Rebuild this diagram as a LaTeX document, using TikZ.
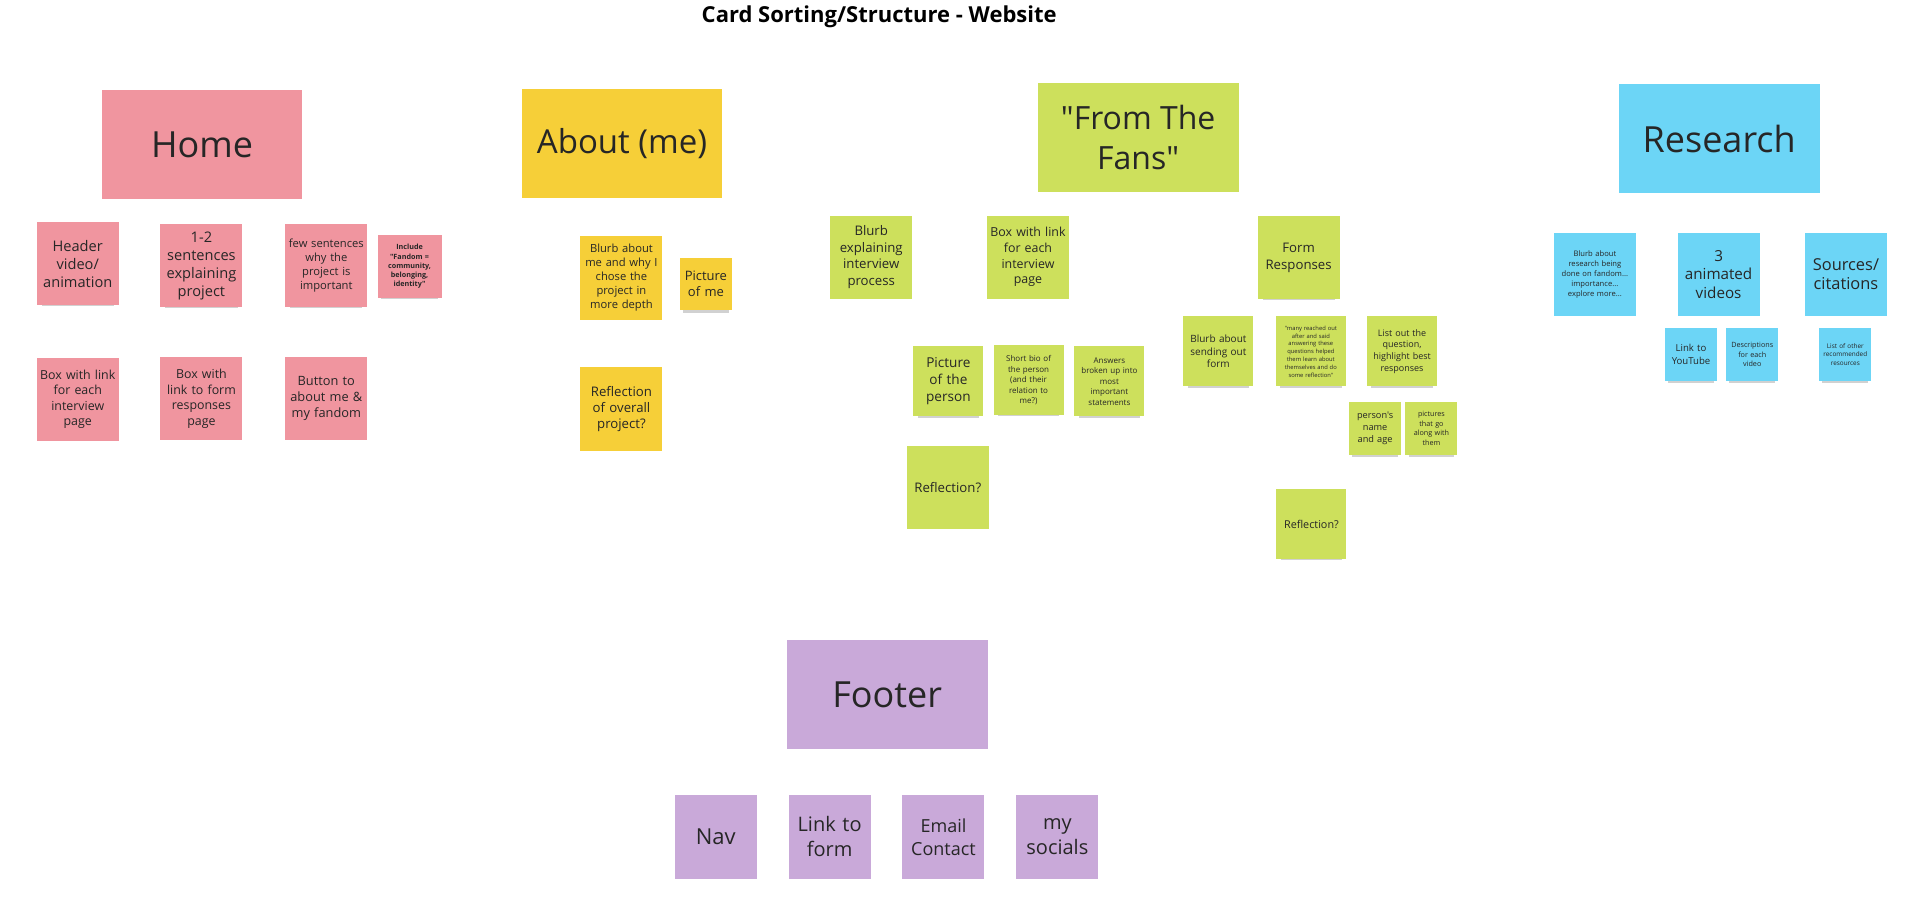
\documentclass[tikz,border=0pt]{standalone}
\usepackage{fontspec}
\setmainfont{Open Sans}[Ligatures=TeXOff]
\usetikzlibrary{shadows}

\definecolor{notepink}{HTML}{F0959F}
\definecolor{noteyellow}{HTML}{F6CF38}
\definecolor{notegreen}{HTML}{CDE05C}
\definecolor{noteblue}{HTML}{6CD5F6}
\definecolor{notepurple}{HTML}{C9A9D9}

\tikzset{
  note/.style={rectangle, inner sep=1pt, align=center, text=black!85,
    drop shadow={shadow xshift=0pt, shadow yshift=-3pt, shadow scale=0.88, opacity=.18, fill=black}},
  big/.style={note, minimum width=100.4pt, minimum height=54.5pt, font=\fontsize{18}{22}\selectfont},
  mid/.style={note, minimum width=41pt, minimum height=41.6pt, text width=39pt},
  small/.style={note, minimum width=34pt, minimum height=35pt, text width=33pt},
  tiny/.style={note, minimum width=25.7pt, minimum height=26.3pt, text width=24pt},
  fl/.style={font=\fontsize{7.3}{9}\selectfont},
  fm/.style={font=\fontsize{5.6}{7}\selectfont},
  fs/.style={font=\fontsize{3.6}{4.6}\selectfont},
}

\begin{document}
\begin{tikzpicture}[x=0.61225pt, y=-0.61225pt]
  \useasboundingbox (0,0) rectangle (1568,736);

  \node[font=\bfseries\fontsize{11}{13}\selectfont] (title) at (718,14) {Card Sorting/Structure - Website};

  % headings
  \node[big, fill=notepink] (home) at (165,118) {Home};
  \node[big, fill=noteyellow, font=\fontsize{16.5}{20}\selectfont] (about) at (508,117.5) {About (me)};
  \node[big, fill=notegreen, font=\fontsize{16}{20}\selectfont] (fans) at (929.5,112.5) {"From The\\Fans"};
  \node[big, fill=noteblue] (research) at (1404,113.5) {Research};
  \node[big, fill=notepurple] (footer) at (724.5,567.5) {Footer};

  % home
  \node[mid, fill=notepink, fl] (header) at (63.5,215.5) {Header\\video/\\animation};
  \node[mid, fill=notepink, fl] (sentences) at (164.5,217) {1-2\\sentences\\explaining\\project};
  \node[mid, fill=notepink, fm] (why) at (266.5,217) {few sentences\\why the\\project is\\important};
  \node[note, fill=notepink, minimum width=31.2pt, minimum height=31.2pt, text width=30pt, font=\bfseries\fontsize{3.6}{4.6}\selectfont] (include) at (334.5,217.5) {Include\\"Fandom =\\community,\\belonging,\\identity"};
  \node[mid, fill=notepink, font=\fontsize{6.2}{7.8}\selectfont] (boxlink) at (63.5,326) {Box with link\\for each\\interview\\page};
  \node[mid, fill=notepink, font=\fontsize{6.2}{7.8}\selectfont] (boxform) at (164.5,325.5) {Box with\\link to form\\responses\\page};
  \node[mid, fill=notepink, font=\fontsize{6.4}{8}\selectfont] (button) at (266.5,325.5) {Button to\\about me \&\\my fandom};

  % about
  \node[mid, fill=noteyellow, fm] (blurbme) at (507.5,227) {Blurb about\\me and why I\\chose the\\project in\\more depth};
  \node[tiny, fill=noteyellow, font=\fontsize{6.5}{8}\selectfont] (picme) at (576.5,232) {Picture\\of me};
  \node[mid, fill=noteyellow, font=\fontsize{6.6}{8.2}\selectfont] (reflectall) at (507.5,334) {Reflection\\of overall\\project?};

  % from the fans
  \node[mid, fill=notegreen, font=\fontsize{6.6}{8.2}\selectfont] (blurbint) at (711.5,210) {Blurb\\explaining\\interview\\process};
  \node[mid, fill=notegreen, font=\fontsize{6.2}{7.8}\selectfont] (boxint) at (839.5,210) {Box with link\\for each\\interview\\page};
  \node[mid, fill=notegreen, font=\fontsize{6.6}{8.2}\selectfont] (formresp) at (1060.5,210.5) {Form\\Responses};
  \node[small, fill=notegreen, font=\fontsize{6.8}{8.4}\selectfont] (picperson) at (774.5,311.5) {Picture\\of the\\person};
  \node[small, fill=notegreen, font=\fontsize{4}{5.2}\selectfont] (bio) at (840,310.5) {Short bio of\\the person\\(and their\\relation to\\me?)};
  \node[small, fill=notegreen, font=\fontsize{4}{5.2}\selectfont] (answers) at (906,311.5) {Answers\\broken up into\\most\\important\\statements};
  \node[mid, fill=notegreen, font=\fontsize{6.6}{8.2}\selectfont] (reflectint) at (774,398) {Reflection?};
  \node[small, fill=notegreen, font=\fontsize{5}{6.4}\selectfont] (sending) at (995,287) {Blurb about\\sending out\\form};
  \node[small, fill=notegreen, font=\fontsize{2.9}{3.9}\selectfont] (quote) at (1070.5,287) {"many reached out\\after and said\\answering these\\questions helped\\them learn about\\themselves and do\\some reflection"};
  \node[small, fill=notegreen, font=\fontsize{4.5}{5.8}\selectfont] (listq) at (1145,287) {List out the\\question,\\highlight best\\responses};
  \node[tiny, fill=notegreen, font=\fontsize{4.6}{6}\selectfont] (nameage) at (1123,350) {person's\\name\\and age};
  \node[tiny, fill=notegreen, font=\fontsize{3.6}{4.8}\selectfont] (pictures) at (1169,350) {pictures\\that go\\along with\\them};
  \node[small, fill=notegreen, font=\fontsize{5.4}{6.8}\selectfont] (reflectform) at (1071,428) {Reflection?};

  % research
  \node[mid, fill=noteblue, font=\fontsize{3.8}{5}\selectfont] (blurbres) at (1302.5,224) {Blurb about\\research being\\done on fandom...\\importance...\\explore more...};
  \node[mid, fill=noteblue, font=\fontsize{7.6}{9.2}\selectfont] (videos) at (1403.5,224) {3\\animated\\videos};
  \node[mid, fill=noteblue, font=\fontsize{8.2}{9.8}\selectfont] (sources) at (1507.5,224) {Sources/\\citations};
  \node[tiny, fill=noteblue, font=\fontsize{4.8}{6.2}\selectfont] (youtube) at (1381,289.5) {Link to\\YouTube};
  \node[tiny, fill=noteblue, font=\fontsize{3.6}{4.8}\selectfont] (descr) at (1431,289.5) {Descriptions\\for each\\video};
  \node[tiny, fill=noteblue, font=\fontsize{3.2}{4.2}\selectfont] (otherres) at (1507,289.5) {List of other\\recommended\\resources};

  % footer
  \node[mid, fill=notepurple, font=\fontsize{11}{13}\selectfont] (nav) at (584.5,683.5) {Nav};
  \node[mid, fill=notepurple, font=\fontsize{10}{12.5}\selectfont] (linkform) at (677.5,683.5) {Link to\\form};
  \node[mid, fill=notepurple, font=\fontsize{9}{11.5}\selectfont] (email) at (770.5,683.5) {Email\\Contact};
  \node[mid, fill=notepurple, font=\fontsize{10}{12.5}\selectfont] (socials) at (863.5,683.5) {my\\socials};
\end{tikzpicture}
\end{document}
